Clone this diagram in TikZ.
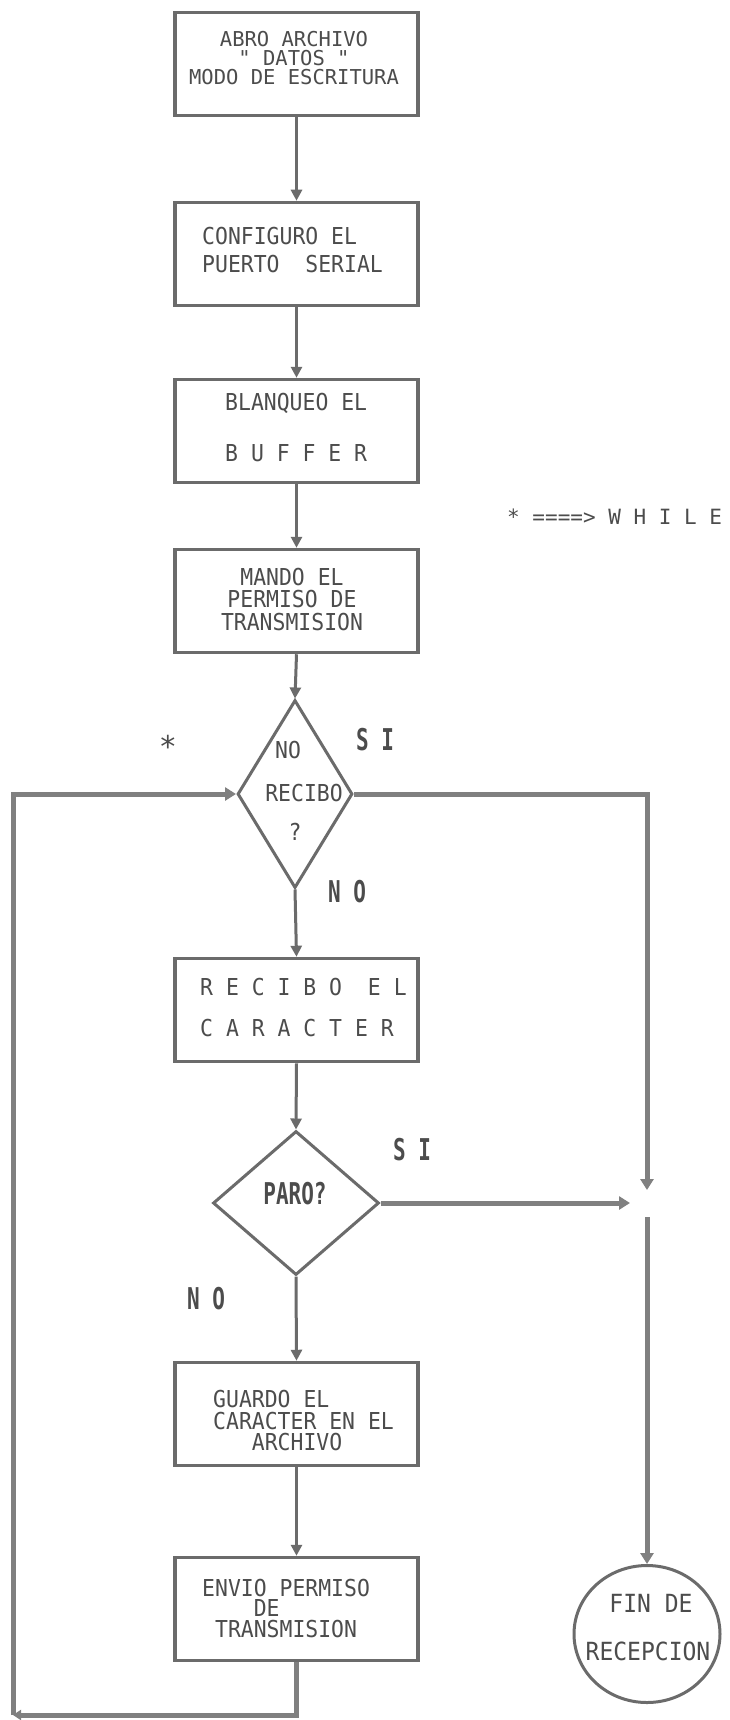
\documentclass[tikz,border=0pt]{standalone}
\usepackage{fontspec}
\usetikzlibrary{shapes.geometric,arrows.meta}
\newfontfamily\dmfont[FakeStretch=0.92,Ligatures=TeXOff]{DejaVu Sans Mono}
\newfontfamily\dmwide[Ligatures=TeXOff]{DejaVu Sans Mono}
\newfontfamily\lblfont[FakeStretch=0.7,Ligatures=TeXOff]{DejaVu Sans Mono}
\definecolor{linec}{gray}{0.42}
\definecolor{thickc}{gray}{0.5}
\definecolor{txtc}{gray}{0.3}
\tikzset{
  procbox/.style={draw=linec, line width=3.5pt, minimum width=243pt, minimum height=103pt, inner sep=0pt},
  dia/.style={diamond, draw=linec, line width=3pt, inner sep=0pt},
  txt/.style={text=txtc, inner sep=0pt, font=\dmfont\fontsize{23.3}{21}\selectfont},
  lbl/.style={text=txtc, inner sep=0pt, font=\lblfont\bfseries\fontsize{30}{30}\selectfont, anchor=west},
  conn/.style={draw=linec, line width=3pt, -{Triangle[width=11pt,length=11pt]}},
  loopl/.style={draw=thickc, line width=5pt},
  looparrow/.style={loopl, -{Triangle[width=13pt,length=11pt]}},
}
\begin{document}
\begin{tikzpicture}[x=1pt,y=-1pt]
\fill[white] (0,0) rectangle (730,1720);
\useasboundingbox (0,0) rectangle (730,1720);

% process boxes
\node[procbox] (b1) at (296.5,64) {};
\node[procbox] (b2) at (296.5,254) {};
\node[procbox] (b3) at (296.5,431) {};
\node[procbox] (b4) at (296.5,601) {};
\node[procbox] (b5) at (296.5,1010) {};
\node[procbox] (b6) at (296.5,1414) {};
\node[procbox] (b7) at (296.5,1609) {};

% decisions and terminal
\node[dia, minimum width=115pt, minimum height=188pt] (d1) at (295,794) {};
\node[dia, minimum width=166pt, minimum height=144pt] (d2) at (296,1203) {};
\node[ellipse, draw=linec, line width=3pt, minimum width=146pt, minimum height=137pt, inner sep=0pt] (fin) at (647,1634) {};

% box texts
\node[txt, align=center, font=\dmwide\fontsize{20.5}{19}\selectfont] (t1) at (294,58.5) {ABRO ARCHIVO\\" DATOS "\\MODO DE ESCRITURA};
\node[txt, align=left, anchor=west, font=\dmfont\fontsize{23.3}{28}\selectfont] (t2) at (202,250) {CONFIGURO EL\\PUERTO~~SERIAL};
\node[txt, align=left, anchor=west, font=\dmfont\fontsize{23.3}{51}\selectfont] (t3) at (225,427.5) {BLANQUEO EL\\B U F F E R};
\node[txt, align=center, font=\dmfont\fontsize{23.3}{22.5}\selectfont] (t4) at (292,599.5) {MANDO EL\\PERMISO DE\\TRANSMISION};
\node[txt, align=left, anchor=west, font=\dmfont\fontsize{23.3}{41}\selectfont] (t5) at (200,1008) {R E C I B O~~E L\\C A R A C T E R};
\node[txt, align=left, anchor=west, font=\dmfont\fontsize{23.3}{21.5}\selectfont] (t6) at (213,1421) {GUARDO EL\\CARACTER EN EL\\\phantom{XXX}ARCHIVO};
\node[txt, align=left, anchor=west, font=\dmfont\fontsize{23.3}{20.5}\selectfont] (t7) at (202,1608) {ENVIO PERMISO\\\phantom{XXXX}DE\\\phantom{X}TRANSMISION};

% decision texts
\node[txt] (dt1) at (288,750) {NO};
\node[txt] (dt2) at (304,793) {RECIBO};
\node[txt] (dt3) at (295,832) {?};
\node[lbl, anchor=center] (dt4) at (295,1194) {PARO?};

% terminal text
\node[txt, font=\dmfont\fontsize{25}{25}\selectfont] (ft1) at (651,1603) {FIN DE};
\node[txt, font=\dmfont\fontsize{25}{25}\selectfont] (ft2) at (648,1651) {RECEPCION};

% labels
\node[txt, anchor=west, font=\dmwide\fontsize{21}{21}\selectfont] (legend) at (507,517) {* ====> W H I L E};
\node[txt, anchor=base, font=\dmwide\fontsize{30}{30}\selectfont] (star) at (168,757.5) {*};
\node[lbl] (si1) at (356,740) {S I};
\node[lbl] (no1) at (328,892) {N O};
\node[lbl] (si2) at (393,1150) {S I};
\node[lbl] (no2) at (187,1299) {N O};

% main flow
\draw[conn] (b1.south) -- (b2.north);
\draw[conn] (b2.south) -- (b3.north);
\draw[conn] (b3.south) -- (b4.north);
\draw[conn] (b4.south) -- (d1.north);
\draw[conn] (d1.south) -- (b5.north);
\draw[conn] (b5.south) -- (d2.north);
\draw[conn] (d2.south) -- (b6.north);
\draw[conn] (b6.south) -- (b7.north);

% loop back
\coordinate (cbl) at (13,1715);
\draw[loopl, -{Triangle[width=10pt,length=8pt]}] (b7.south) |- (cbl);
\draw[looparrow] (cbl) |- (d1.west);

% exits
\coordinate (jtop) at (647,1190);
\coordinate (jleft) at (630,1203);
\coordinate (jbot) at (647,1217);
\draw[looparrow] (d1.east) -| (jtop);
\draw[looparrow] (d2.east) -- (jleft);
\draw[looparrow] (jbot) -- (fin.north);
\end{tikzpicture}
\end{document}
